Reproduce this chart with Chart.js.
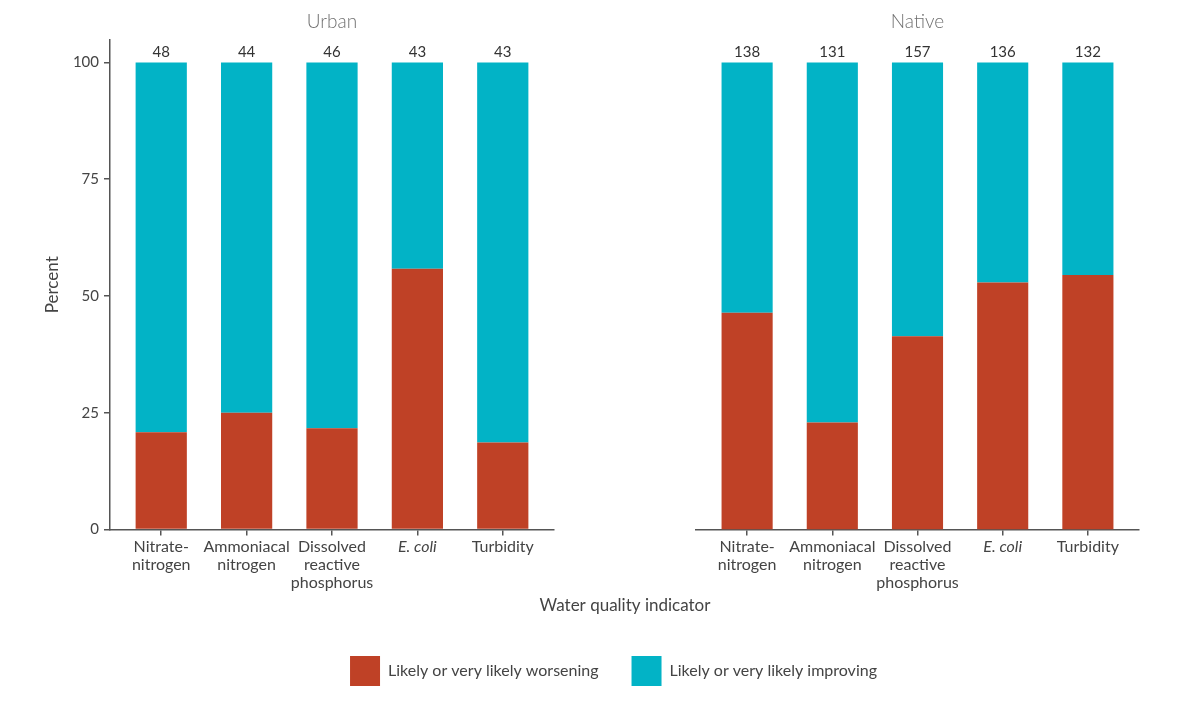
<!DOCTYPE html>
<html>
<head>
<meta charset="utf-8">
<script src="https://cdn.jsdelivr.net/npm/chart.js@4.4.1/dist/chart.umd.min.js"></script>
<style>
  html, body { margin: 0; padding: 0; background: #ffffff; }
  #wrap { position: relative; width: 1200px; height: 706px; background: #ffffff; }
  #cA { position: absolute; left: 0; top: 0; }
  #cB { position: absolute; left: 600px; top: 0; pointer-events: none; }
</style>
</head>
<body>
<div id="wrap">
  <canvas id="cA" width="1200" height="706"></canvas>
  <canvas id="cB" width="600" height="706"></canvas>
</div>
<script>
// ---- data ----
const categories = [["Nitrate-", "nitrogen"], ["Ammoniacal", "nitrogen"], ["Dissolved", "reactive", "phosphorus"], ["E. coli"], ["Turbidity"]];
const panelTitles = ["Urban", "Native"];
const seriesNames = ["Likely or very likely worsening", "Likely or very likely improving"];
const urbanWorsening = [20.8, 25.0, 21.7, 55.8, 18.6];
const urbanImproving = [79.2, 75.0, 78.3, 44.2, 81.4];
const urbanCounts = [48, 44, 46, 43, 43];
const nativeWorsening = [46.4, 22.9, 41.4, 52.9, 54.5];
const nativeImproving = [53.6, 77.1, 58.6, 47.1, 45.5];
const nativeCounts = [138, 131, 157, 136, 132];
const yTicks = [0, 25, 50, 75, 100];
const yTitle = "Percent";
const xTitle = "Water quality indicator";

// ---- style ----
const RED = "#BF4126";
const TEAL = "#02B3C6";
const TEXT = "#444444";
const AXIS = "#555555";
Chart.defaults.font.family = "Lato, 'Open Sans', sans-serif";
Chart.defaults.color = TEXT;

function panelPlugin(title, counts, drawXTitle) {
  return {
    id: "panel_" + title,
    afterDatasetsDraw(chart) {
      const ctx = chart.ctx;
      const ca = chart.chartArea;
      ctx.save();
      // panel title
      ctx.fillStyle = "#707070";
      ctx.font = "300 19px Lato, sans-serif";
      ctx.textAlign = "center";
      ctx.textBaseline = "middle";
      ctx.fillText(title, (ca.left + ca.right) / 2, 22);
      // counts above bars
      const meta = chart.getDatasetMeta(1);
      ctx.fillStyle = "#333333";
      ctx.font = "15px Lato, sans-serif";
      ctx.textBaseline = "alphabetic";
      meta.data.forEach((bar, i) => {
        ctx.fillText(String(counts[i]), bar.x, bar.y - 5);
      });
      if (drawXTitle) {
        ctx.fillStyle = TEXT;
        ctx.font = "17px Lato, sans-serif";
        ctx.textBaseline = "middle";
        ctx.fillText(xTitle, 625, 606);
      }
      ctx.restore();
    }
  };
}

function makeXScale() {
  return {
    type: "linear",
    position: "bottom",
    min: -0.6,
    max: 4.6,
    offset: false,
    stacked: true,
    afterBuildTicks: (s) => { s.ticks = categories.map((_, i) => ({ value: i })); },
    afterFit: (s) => { s.height = 93.5; },
    ticks: {
      autoSkip: false,
      maxRotation: 0,
      padding: 3,
      color: TEXT,
      callback: (v) => categories[v],
      font: (c) => ({ family: "Lato, sans-serif", size: 16, lineHeight: 1.1, style: c.index === 3 ? "italic" : "normal" })
    },
    grid: { offset: false, drawOnChartArea: false, drawTicks: true, tickLength: 6, color: AXIS, lineWidth: 1.5 },
    border: { display: true, color: AXIS, width: 1.5 }
  };
}

function makeDatasets(worse, improve) {
  return [
    { label: seriesNames[0], data: worse.map((v, i) => ({ x: i, y: v })), backgroundColor: RED, borderWidth: 0, barPercentage: 0.6, categoryPercentage: 1.0 },
    { label: seriesNames[1], data: improve.map((v, i) => ({ x: i, y: v })), backgroundColor: TEAL, borderWidth: 0, barPercentage: 0.6, categoryPercentage: 1.0 }
  ];
}

// ---- left panel (Urban), also carries y axis, x title and legend ----
new Chart(document.getElementById("cA"), {
  type: "bar",
  data: { datasets: makeDatasets(urbanWorsening, urbanImproving) },
  options: {
    responsive: false,
    animation: false,
    devicePixelRatio: 1,
    layout: { padding: { left: 27, top: 40, right: 0, bottom: 10 } },
    scales: {
      x: makeXScale(),
      y: {
        min: 0,
        max: 104.8,
        stacked: true,
        afterBuildTicks: (s) => { s.ticks = yTicks.map(v => ({ value: v })); },
        afterFit: (s) => { s.width = 83; },
        ticks: { padding: 5, color: TEXT, font: { size: 15 } },
        grid: { drawOnChartArea: false, drawTicks: true, tickLength: 6, color: AXIS, lineWidth: 1.5 },
        border: { display: true, color: AXIS, width: 1.5 },
        title: { display: true, text: yTitle, color: TEXT, font: { size: 17, lineHeight: 1.2 }, padding: { top: 15.8, bottom: 0 } }
      },
      y2: {
        position: "right",
        display: true,
        grid: { display: false },
        border: { display: false },
        ticks: { display: false },
        afterFit: (s) => { s.width = 646; }
      }
    },
    plugins: {
      legend: {
        display: true,
        position: "bottom",
        labels: { boxWidth: 30, boxHeight: 30, padding: 33, color: TEXT, font: { size: 16 } }
      },
      tooltip: { enabled: false },
      title: { display: false }
    }
  },
  plugins: [panelPlugin(panelTitles[0], urbanCounts, true)]
});

// ---- right panel (Native) ----
new Chart(document.getElementById("cB"), {
  type: "bar",
  data: { datasets: makeDatasets(nativeWorsening, nativeImproving) },
  options: {
    responsive: false,
    animation: false,
    devicePixelRatio: 1,
    layout: { padding: { left: 96, top: 40, right: 61, bottom: 83 } },
    scales: {
      x: makeXScale(),
      y: {
        display: false,
        min: 0,
        max: 104.8,
        stacked: true
      }
    },
    plugins: {
      legend: { display: false },
      tooltip: { enabled: false },
      title: { display: false }
    }
  },
  plugins: [panelPlugin(panelTitles[1], nativeCounts, false)]
});
</script>
</body>
</html>
